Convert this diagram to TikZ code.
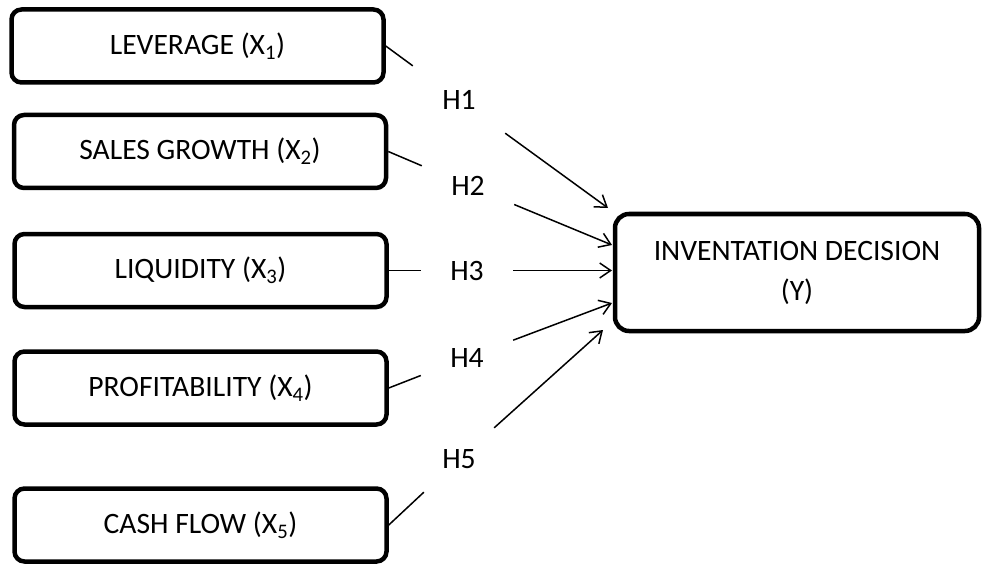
\documentclass[tikz,border=0pt]{standalone}
\usepackage{fontspec}
\setmainfont{Carlito}
\usetikzlibrary{arrows.meta,positioning,calc}

\begin{document}
\begin{tikzpicture}[x=1pt,y=-1pt,
  every node/.style={font=\fontsize{29.6}{40}\selectfont},
  varbox/.style={draw,line width=4.5pt,rounded corners=10pt,minimum width=372pt,minimum height=73pt,inner sep=0pt},
  hyp/.style={inner sep=0pt,minimum width=92pt,minimum height=80pt},
  link/.style={line width=1.5pt},
  tip/.style={-{Straight Barb[length=11pt,width=15pt]}}]
      \useasboundingbox (0,0) rectangle (982,564);

      \coordinate (A) at (197.5,46);
      \coordinate (B) at (200,151.5);
      \coordinate (C) at (200.5,270.5);
      \coordinate (D) at (200.5,388);
      \coordinate (E) at (200.5,525);
      \coordinate (Y) at (797,272.5);

      \coordinate (t1) at (608,208);
      \coordinate (t2) at (612,245);
      \coordinate (t3) at (612,270.5);
      \coordinate (t4) at (612,303);
      \coordinate (t5) at (603,330);

      \node[varbox] (lev) at (A) {LEVERAGE (X\textsubscript{1})};
      \node[varbox] (sal) at (B) {SALES GROWTH (X\textsubscript{2})};
      \node[varbox] (liq) at (C) {LIQUIDITY (X\textsubscript{3})};
      \node[varbox] (pro) at (D) {PROFITABILITY (X\textsubscript{4})};
      \node[varbox] (cas) at (E) {CASH FLOW (X\textsubscript{5})};
      \node[draw,line width=4.5pt,rounded corners=14pt,minimum width=364pt,
        minimum height=117pt,align=center] (dec) at (Y) {INVENTATION DECISION\\(Y)};

      \node[hyp] (h1) at (459,99.7) {H1};
      \node[hyp] (h2) at (468,185.4) {H2};
      \node[hyp] (h3) at (467,270.5) {H3};
      \node[hyp] (h4) at (467,357.5) {H4};
      \node[hyp,minimum width=70pt] (h5) at (459,459.4) {H5};

      \draw[link] (lev.east) -- (h1);
      \draw[link] (sal.east) -- (h2);
      \draw[link] (liq.east) -- (h3);
      \draw[link] (pro.east) -- (h4);
      \draw[link] (cas.east) -- (h5);
      \draw[link,tip] (h1) -- (t1);
      \draw[link,tip] (h2) -- (t2);
      \draw[link,tip] (h3) -- (t3);
      \draw[link,tip] (h4) -- (t4);
      \draw[link,tip] (h5) -- (t5);

    \end{tikzpicture}
\end{document}
